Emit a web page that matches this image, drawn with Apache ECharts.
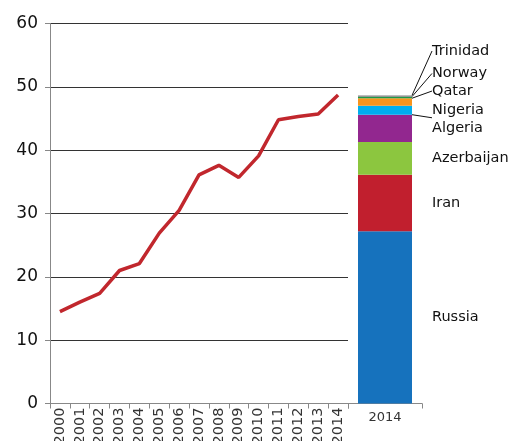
<!DOCTYPE html>
<html><head><meta charset="utf-8">
<script src="https://cdn.jsdelivr.net/npm/echarts@6/dist/echarts.min.js"></script>
<style>html,body{margin:0;padding:0;background:#fff}#c{width:518px;height:441px}</style>
</head><body><div id="c"></div>
<script>
const years = ['2000','2001','2002','2003','2004','2005','2006','2007','2008','2009','2010','2011','2012','2013','2014'];
const totalImports = [14.5,16.0,17.4,21.0,22.1,26.9,30.5,36.1,37.6,35.7,39.1,44.8,45.3,45.7,48.7];
const barCategory = ['2014'];
const suppliers = ['Russia','Iran','Azerbaijan','Algeria','Nigeria','Qatar','Norway','Trinidad'];
const supplierValues = [27.2,8.9,5.2,4.3,1.4,1.2,0.25,0.2];
const supplierColors = ['#1672bd','#c11f2e','#8cc63f','#92278f','#00aeef','#f7941d','#1c9a48','#7f7f7f'];
const labelShift = [0,0,0,0,0,-11,-24,-45];
const yTicks = [0,10,20,30,40,50,60];

const font = 'DejaVu Sans';
const chart = echarts.init(document.getElementById('c'));
const series = [{
  type:'line', xAxisIndex:0, yAxisIndex:0, data: totalImports, symbol:'none',
  lineStyle:{color:'#c1272d', width:3.5}, itemStyle:{color:'#c1272d'}
}];
suppliers.forEach((name,i)=>{
  const moved = labelShift[i] !== 0 || i===4;
  series.push({
    type:'bar', name, stack:'s', xAxisIndex:1, yAxisIndex:1, barWidth:54,
    data:[supplierValues[i]], itemStyle:{color:supplierColors[i]},
    label:{show:true, position:'right', distance:20, formatter:name,
      fontFamily:font, fontSize:14.5, color:'#111'},
    labelLayout: labelShift[i] !== 0 ? {dy: labelShift[i]} : undefined,
    labelLine: moved ? {show:true, lineStyle:{color:'#111', width:1}} : undefined
  });
});
chart.setOption({
  animation:false,
  grid:[{left:50, top:23.5, width:298, bottom:37.5, containLabel:false, outerBoundsMode:'none'},
        {left:348, top:23.5, width:74, bottom:37.5, containLabel:false, outerBoundsMode:'none'}],
  xAxis:[{type:'category', gridIndex:0, data:years, boundaryGap:true,
    axisLine:{lineStyle:{color:'#888'}}, axisTick:{show:true, length:5, lineStyle:{color:'#888'}},
    axisLabel:{rotate:90, interval:0, fontFamily:font, fontSize:14.5, color:'#333', margin:4}},
    {type:'category', gridIndex:1, data:barCategory,
    axisLine:{lineStyle:{color:'#888'}}, axisTick:{show:true, length:5, lineStyle:{color:'#888'}},
    axisLabel:{fontFamily:font, fontSize:13, color:'#333', margin:8}}],
  yAxis:[{type:'value', gridIndex:0, min:0, max:60, interval:10,
    axisLine:{show:true, lineStyle:{color:'#888'}}, axisTick:{show:true, length:5, lineStyle:{color:'#888'}},
    splitLine:{lineStyle:{color:'#333', width:1}},
    axisLabel:{fontFamily:font, fontSize:17, color:'#111', margin:12,
      formatter:v=>yTicks.includes(v)?String(v):''}},
    {type:'value', gridIndex:1, min:0, max:60, interval:10, show:false, splitLine:{show:false}}],
  series
});
</script></body></html>
